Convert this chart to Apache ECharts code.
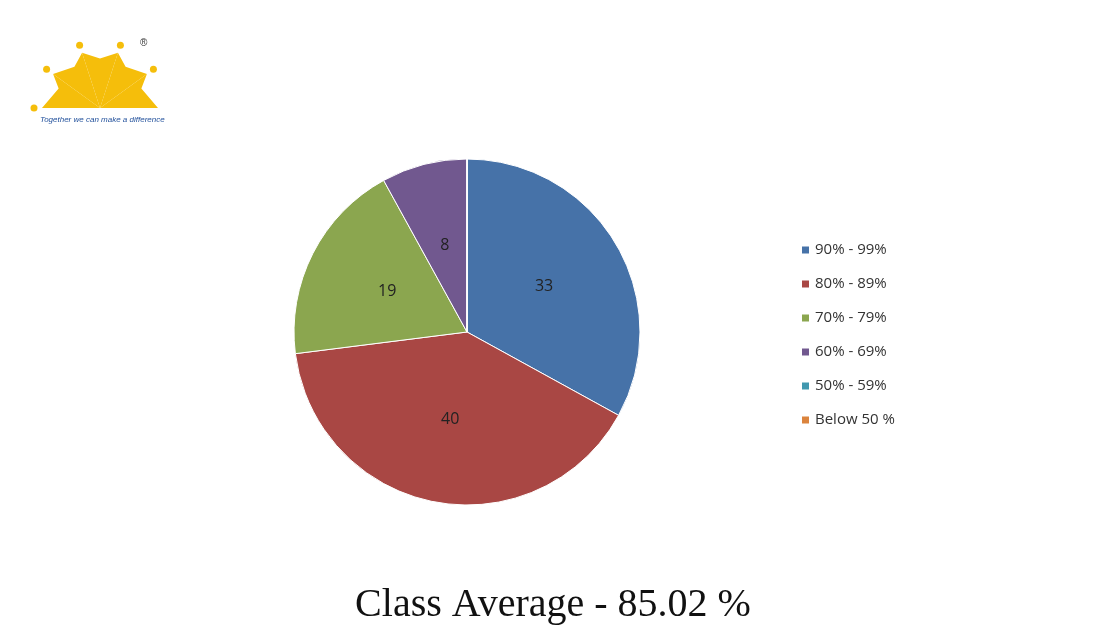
<!DOCTYPE html>
<html><head><meta charset="utf-8">
<script src="https://cdn.jsdelivr.net/npm/echarts@6/dist/echarts.min.js"></script>
<style>html,body{margin:0;padding:0;background:#fff}#c{width:1106px;height:641px}</style>
</head><body><div id="c"></div>
<script>
const categories = ['90% - 99%','80% - 89%','70% - 79%','60% - 69%','50% - 59%','Below 50 %'];
const values = [33, 40, 19, 8, 0, 0];
const colors = ['#4672A8','#A94744','#8BA64F','#71588F','#4198AF','#DB843D'];
const chart = echarts.init(document.getElementById('c'));
const petals = [];
for (let i = 0; i < 5; i++) {
  const a0 = Math.PI + i * Math.PI / 5, a1 = a0 + Math.PI / 5;
  const cx = 100, cy = 108, r = 58;
  petals.push({type:'polygon', shape:{points:[[cx,cy],[cx+r*Math.cos(a0),cy+r*Math.sin(a0)],[cx+r*0.75*Math.cos((a0+a1)/2),cy+r*0.75*Math.sin((a0+a1)/2)-6],[cx+r*Math.cos(a1),cy+r*Math.sin(a1)]]}, style:{fill:'#F5BE0B'}});
  petals.push({type:'circle', shape:{cx:cx+(r+8)*Math.cos(a0), cy:cy+(r+8)*Math.sin(a0), r:3.5}, style:{fill:'#F5BE0B'}});
}
chart.setOption({
  animation:false,
  color: colors,
  graphic: petals.concat([
    {type:'text', left:40, top:116, style:{text:'Together we can make a difference', fill:'#1F4E9A', font:'italic 8px Liberation Sans', }},
    {type:'text', left:140, top:38, style:{text:'®', fill:'#333', font:'10px Liberation Sans'}},
    {type:'text', left:'center', top:585, style:{text:'Class Average - 85.02 %', fill:'#111', font:'40px Liberation Serif'}}
  ]),
  legend:{orient:'vertical', left:795, top:236, itemWidth:9, itemHeight:9, itemGap:16, icon:'rect',
    textStyle:{fontSize:15, color:'#333', fontFamily:'Open Sans', lineHeight:18}, data:categories},
  series:[{type:'pie', center:[467,332], radius:173, startAngle:90, clockwise:true,
    label:{position:'inside', fontSize:16, color:'#222', fontFamily:'Open Sans', formatter: p => p.value ? p.value : ''},
    itemStyle:{borderColor:'#fff', borderWidth:1},
    emphasis:{disabled:true},
    data: categories.map((c,i)=>({name:c, value:values[i]}))}]
});
</script></body></html>
